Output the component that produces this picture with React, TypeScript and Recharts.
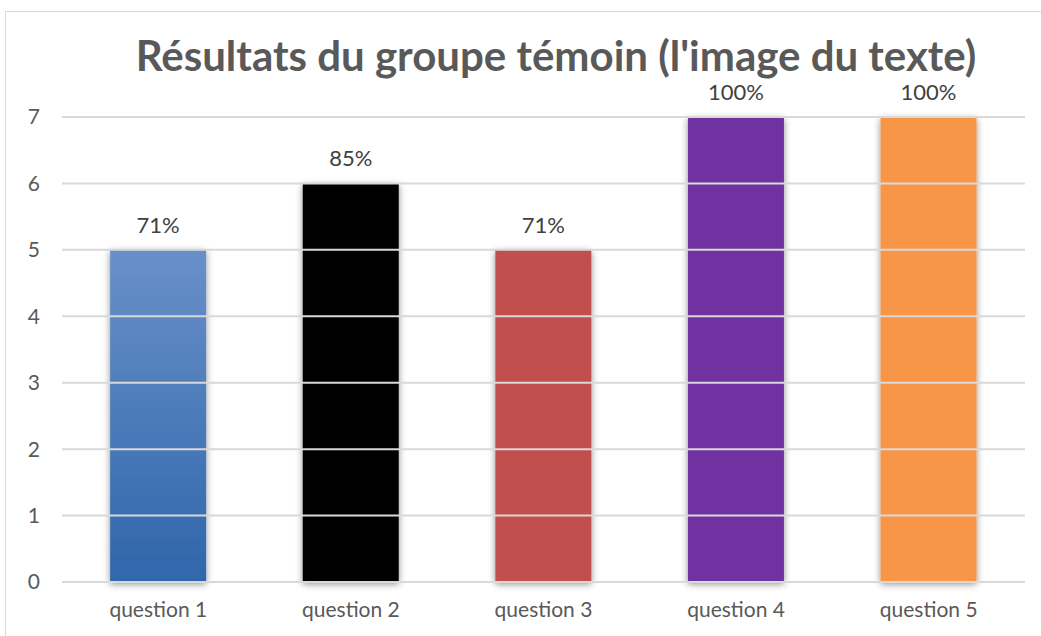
import { Bar, BarChart, Cell, LabelList, ReferenceLine, XAxis, YAxis } from "recharts";

const categories = ["question 1", "question 2", "question 3", "question 4", "question 5"];
const scores = [5, 6, 5, 7, 7];
const percentLabels = ["71%", "85%", "71%", "100%", "100%"];
const yTicks = [0, 1, 2, 3, 4, 5, 6, 7];
const barColors = ["url(#blueFade)", "#000000", "#c0504d", "#7030a0", "#f79646"];

const data = categories.map((name, i) => ({ name, value: scores[i], pct: percentLabels[i] }));

const FONT = "Lato, 'Open Sans', sans-serif";

export default function App() {
    return (
        <div style={{ position: "absolute", left: 0, top: 0, width: 1041, height: 636, background: "#fff", overflow: "hidden" }}>
            <div style={{ position: "absolute", left: 5, top: 11, width: 1045, height: 640, border: "1.5px solid #d9d9d9" }} />
            <div
                style={{
                    position: "absolute",
                    left: 0,
                    top: 28,
                    width: 1112,
                    textAlign: "center",
                    fontFamily: FONT,
                    fontWeight: 700,
                    fontSize: 42,
                    color: "#595959",
                    lineHeight: "54px",
                }}
            >
                Résultats du groupe témoin (l'image du texte)
            </div>
            <div style={{ position: "absolute", left: 0, top: 0 }}>
                <BarChart width={1041} height={636} data={data} margin={{ top: 117, right: 16, bottom: 14, left: 0 }} barCategoryGap="25%">
                    <defs>
                        <linearGradient id="blueFade" x1="0" y1="0" x2="0" y2="1">
                            <stop offset="0%" stopColor="#6990c8" />
                            <stop offset="100%" stopColor="#2f66ab" />
                        </linearGradient>
                        <filter id="barShadow" x="-20%" y="-10%" width="140%" height="125%">
                            <feDropShadow dx="0" dy="2" stdDeviation="3.5" floodColor="#000" floodOpacity="0.45" />
                        </filter>
                    </defs>
                    <XAxis
                        dataKey="name"
                        height={40}
                        axisLine={false}
                        tickLine={false}
                        tickMargin={14}
                        tick={{ fill: "#595959", fontSize: 21, fontFamily: FONT }}
                    />
                    <YAxis
                        width={62}
                        domain={[0, 7]}
                        ticks={yTicks}
                        axisLine={false}
                        tickLine={false}
                        tickMargin={16}
                        tick={{ fill: "#595959", fontSize: 21, fontFamily: FONT }}
                    />
                    <Bar dataKey="value" isAnimationActive={false} style={{ filter: "url(#barShadow)" }}>
                        {data.map((d, i) => (
                            <Cell key={d.name} fill={barColors[i]} />
                        ))}
                        <LabelList dataKey="pct" position="top" offset={17} fill="#404040" fontSize={22} fontFamily={FONT} />
                    </Bar>
                    {yTicks.map((t) => (
                        <ReferenceLine key={t} y={t} stroke="#d9d9d9" strokeWidth={2} />
                    ))}
                </BarChart>
            </div>
        </div>
    );
}
